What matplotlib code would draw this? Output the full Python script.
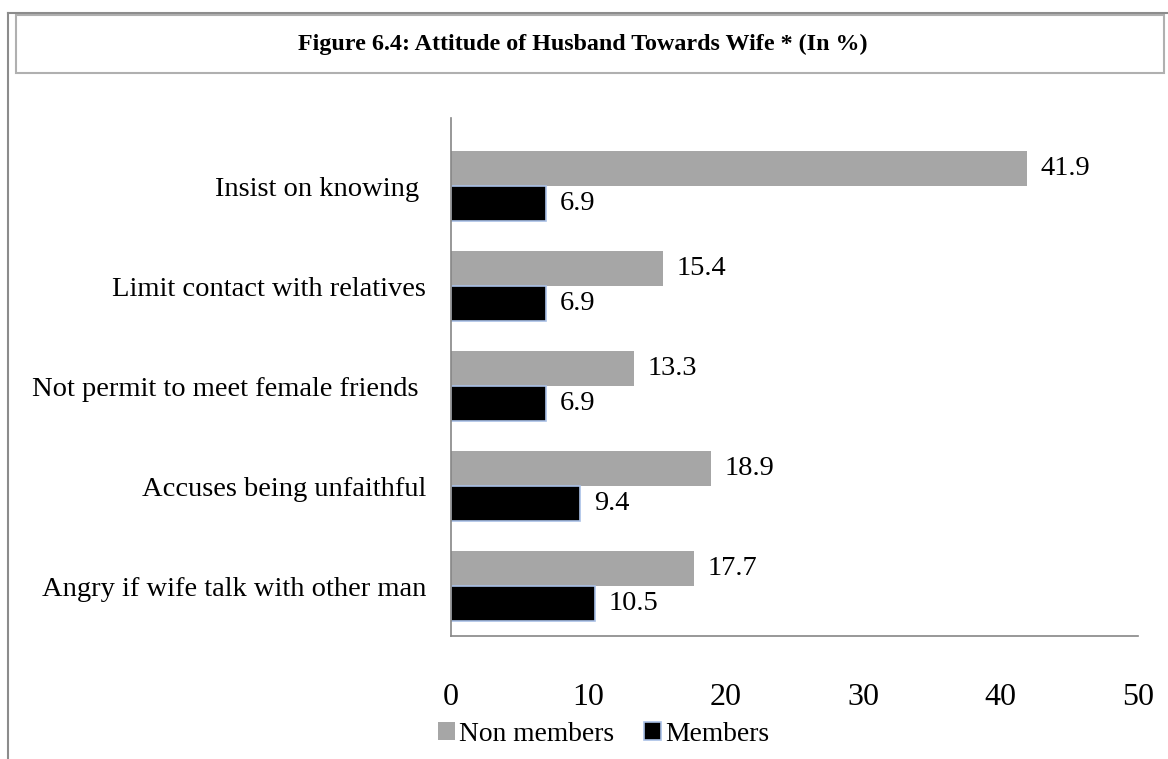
import matplotlib.pyplot as plt
from matplotlib.patches import Rectangle
from matplotlib.lines import Line2D

categories = ["Angry if wife talk with other man", "Accuses being unfaithful",
              "Not permit to meet female friends ", "Limit contact with relatives",
              "Insist on knowing "]
non_members = [17.7, 18.9, 13.3, 15.4, 41.9]
members = [10.5, 9.4, 6.9, 6.9, 6.9]
xticks = [0, 10, 20, 30, 40, 50]

plt.rcParams["font.family"] = "Liberation Serif"

fig = plt.figure(figsize=(11.68, 7.59), dpi=100)

# outer frame lines and title box
fig.add_artist(Line2D([8 / 1168, 8 / 1168], [0, 1 - 13 / 759], color="#8c8c8c", lw=1.5))
fig.add_artist(Line2D([8 / 1168, 1], [1 - 13 / 759, 1 - 13 / 759], color="#8c8c8c", lw=1.5))
fig.add_artist(Rectangle((16 / 1168, 1 - 73 / 759), 1148 / 1168, 58 / 759,
                         fill=False, edgecolor="#b0b0b0", lw=1.5))
fig.text(583 / 1168, 1 - 44 / 759, "Figure 6.4: Attitude of Husband Towards Wife * (In %)",
         ha="center", va="center", fontsize=17.3, fontweight="bold")

ax = fig.add_axes([451 / 1168, 1 - 636 / 759, 687 / 1168, 518 / 759])
pos = list(range(len(categories)))
h = 0.35
ax.barh([p + h / 2 for p in pos], non_members, height=h, color="#a6a6a6", label="Non members")
ax.barh([p - h / 2 for p in pos], members, height=h, color="black",
        edgecolor="#a9c0e6", linewidth=1.2, label="Members")

for p, v in zip(pos, non_members):
    ax.text(v + 1.0, p + h / 2, f"{v}", va="center", ha="left", fontsize=20.5)
for p, v in zip(pos, members):
    ax.text(v + 1.0, p - h / 2, f"{v}", va="center", ha="left", fontsize=20.5)

ax.set_xlim(0, 50)
ax.set_ylim(-0.5, 4.68)
ax.set_xticks(xticks)
ax.set_xticklabels([str(t) for t in xticks], fontsize=23)
ax.set_yticks(pos)
ax.set_yticklabels(categories, fontsize=20.5)
ax.tick_params(axis="both", length=0)
ax.tick_params(axis="x", pad=34)
ax.tick_params(axis="y", pad=18)
for s in ["top", "right"]:
    ax.spines[s].set_visible(False)
for s in ["left", "bottom"]:
    ax.spines[s].set_color("#868686")
    ax.spines[s].set_linewidth(1.2)

ax.legend(loc="center", bbox_to_anchor=(0.222, -0.19), ncol=2, frameon=False,
          fontsize=19.8, handlelength=0.6, handleheight=0.6, handletextpad=0.15,
          columnspacing=1.1, borderpad=0)

fig.savefig("out.png", dpi=100)
